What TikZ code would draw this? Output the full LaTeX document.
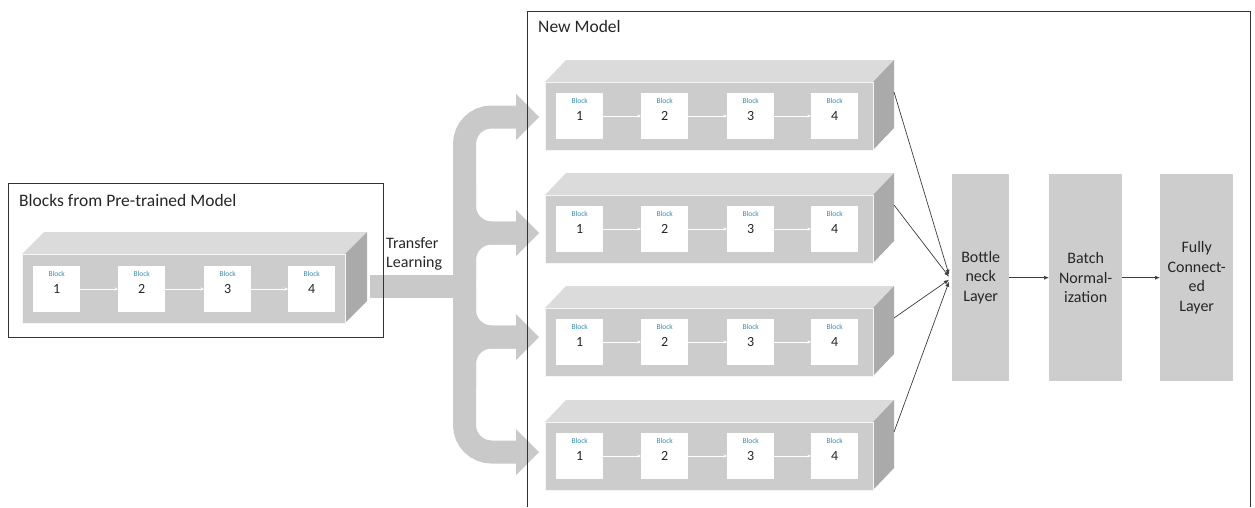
\documentclass[tikz,border=0pt]{standalone}
\usepackage{fontspec}
\setmainfont{Carlito}
\usetikzlibrary{arrows.meta,calc}
\definecolor{frontc}{RGB}{204,204,204}
\definecolor{topc}{RGB}{219,219,219}
\definecolor{sidec}{RGB}{170,170,170}
\definecolor{arrowc}{RGB}{201,201,201}
\definecolor{layerc}{RGB}{205,205,205}
\definecolor{lblc}{RGB}{60,140,175}
\definecolor{txtc}{RGB}{38,38,38}
\definecolor{linec}{RGB}{60,60,60}
\tikzset{
  front/.style={fill=frontc, draw=white!80!frontc, line width=0.8pt, anchor=north west, inner sep=0pt},
  blk/.style={fill=white, draw=none, minimum width=47pt, minimum height=46pt, anchor=north west, inner sep=0pt},
  blklbl/.style={text=lblc, font=\fontsize{7.5}{8}\selectfont, inner sep=0pt},
  blknum/.style={text=txtc, font=\fontsize{14}{16}\selectfont, inner sep=0pt},
  blkarr/.style={draw=white, line width=0.6pt, -{Stealth[length=3.5pt,width=3pt]}},
  layer/.style={fill=layerc, minimum height=207pt, anchor=north west, inner sep=0pt, align=center, text=txtc, font=\fontsize{16}{19.5}\selectfont},
  conn/.style={draw=linec, line width=0.7pt, -{Latex[length=5pt,width=4pt]}},
  boxline/.style={draw=black!80, line width=1pt},
  titletxt/.style={text=txtc, font=\fontsize{17.5}{20}\selectfont, inner sep=0pt, anchor=base west},
  bigarr/.style={draw=arrowc, line width=23pt, rounded corners=27pt}
}
\newcommand\mkcuboid[7]{%
  \fill[topc] (#2,#3) -- ++(#6,-#7) -- ++(#4,0) -- ++(-#6,#7) -- cycle;
  \fill[sidec] (#2+#4,#3) -- ++(#6,-#7) -- ++(0,#5) -- ++(-#6,#7) -- cycle;
  \node[front, minimum width=#4pt, minimum height=#5pt] (#1) at (#2,#3) {};
  \coordinate (#1-s) at (#2+#4+#6,#3+10);
}
\newcommand\mkblock[4]{%
  \node[blk] (#1) at (#2,#3) {};
  \node[blklbl] (#1-l) at ([yshift=-8pt]#1.north) {Block};
  \node[blknum] (#1-n) at ([yshift=-23pt]#1.north) {#4};
}
\newcommand\mkrow[3]{% prefix, x0 list handled inside, y
  \mkblock{#1a}{#2}{#3}{1}
  \mkblock{#1b}{#2+85}{#3}{2}
  \mkblock{#1c}{#2+171}{#3}{3}
  \mkblock{#1d}{#2+255}{#3}{4}
  \draw[blkarr] (#1a.east |- #1a-n) -- (#1b.west |- #1a-n);
  \draw[blkarr] (#1b.east |- #1b-n) -- (#1c.west |- #1b-n);
  \draw[blkarr] (#1c.east |- #1c-n) -- (#1d.west |- #1c-n);
}
\begin{document}
\begin{tikzpicture}[x=1pt,y=-1pt]
\useasboundingbox (0,0) rectangle (1255,507);
% big transfer arrow
\fill[arrowc] (370,275) rectangle (466,298);
\draw[bigarr] (516,117) -- (464.5,117) -- (464.5,452) -- (516,452);
\foreach \c in {233,337} {
  \draw[bigarr] (464.5,\c-50) -- (464.5,\c) -- (516,\c);
  \draw[bigarr] (464.5,\c+50) -- (464.5,\c) -- (516,\c);
}
\foreach \c in {117,233,337,452} {
  \fill[arrowc] (516,\c-23) -- (539,\c) -- (516,\c+23) -- cycle;
}
% left cuboid
\mkcuboid{lc}{22}{254}{323}{69}{22}{22}
\mkrow{l}{33}{266}
% right cuboids
\mkcuboid{r1}{545}{82}{328}{68}{21}{22}
\mkrow{p}{556}{93}
\mkcuboid{r2}{545}{195}{328}{68}{21}{22}
\mkrow{q}{556}{206}
\mkcuboid{r3}{545}{308}{328}{68}{21}{22}
\mkrow{s}{556}{319}
\mkcuboid{r4}{545}{422}{328}{68}{21}{22}
\mkrow{t}{556}{433}
% layers
\node[layer, minimum width=57pt] (bn) at (952,174) {Bottle\\neck\\Layer};
\node[layer, minimum width=73pt] (norm) at (1049,174) {Batch\\Normal-\\ization};
\node[layer, minimum width=73pt] (fc) at (1160,174) {Fully\\Connect-\\ed\\Layer};
% connectors
\draw[conn] (r1-s) -- ([xshift=-3pt,yshift=3pt]bn.west);
\draw[conn] (r2-s) -- ([xshift=-3pt,yshift=1pt]bn.west);
\draw[conn] (r3-s) -- ([xshift=-3pt,yshift=-2pt]bn.west);
\draw[conn] (r4-s) -- ([xshift=-3pt,yshift=-4pt]bn.west);
\draw[conn] (bn.east) -- (norm.west);
\draw[conn] (norm.east) -- (fc.west);
% boxes and titles
\node[boxline, minimum width=375pt, minimum height=154pt, anchor=north west, inner sep=0pt] (lbox) at (8,183) {};
\draw[boxline] (527,507) -- (527,11) -- (1250,11) -- (1250,507);
\node[titletxt] (t1) at (19,206) {Blocks from Pre-trained Model};
\node[titletxt] (t2) at (538,32) {New Model};
\node[anchor=west, align=left, font=\fontsize{16}{19}\selectfont, text=txtc, inner sep=0pt] (tl) at (386,254) {Transfer\\Learning};
\end{tikzpicture}
\end{document}
